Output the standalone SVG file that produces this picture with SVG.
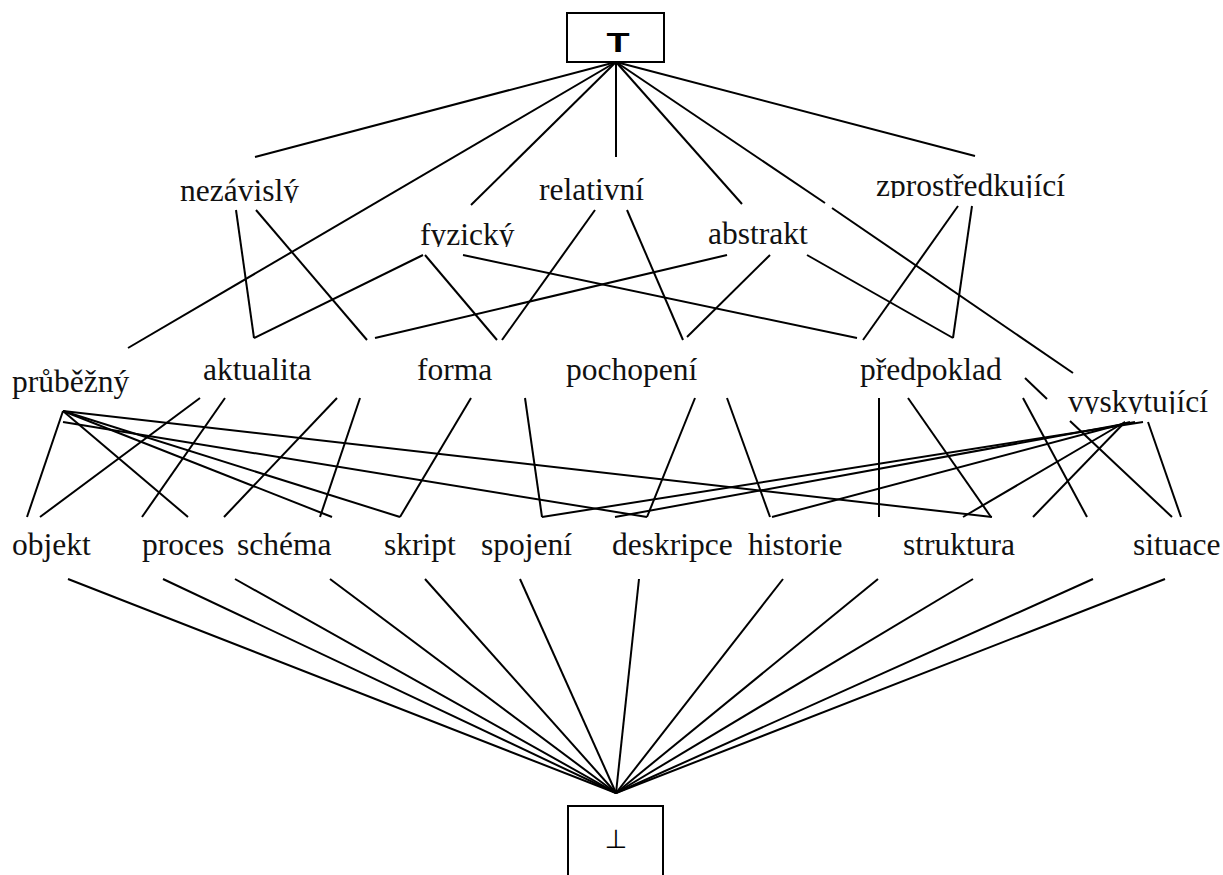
<svg xmlns="http://www.w3.org/2000/svg" width="1223" height="875" viewBox="0 0 1223 875">
  <style>
    .edge { stroke: #000; stroke-width: 2; fill: none; stroke-linecap: butt; }
    .box { fill: #fff; stroke: #000; stroke-width: 2; }
    .lbl { font-family: "Liberation Serif", "Times New Roman", serif; font-size: 31.5px; fill: #111; }
    .sym { font-family: "Liberation Sans", Arial, sans-serif; font-size: 28px; font-weight: bold; fill: #000; text-anchor: middle; }
    .bot { font-family: "DejaVu Sans", sans-serif; font-size: 26px; fill: #000; text-anchor: middle; }
  </style>
  <defs>
    <!-- label frames cut off the descenders of some words -->
    <clipPath id="clip-nezavisly"><rect x="170" y="160" width="150" height="43"/></clipPath>
    <clipPath id="clip-fyzicky"><rect x="410" y="205" width="120" height="42"/></clipPath>
    <clipPath id="clip-zprostredkujici"><rect x="866" y="155" width="215" height="43"/></clipPath>
    <clipPath id="clip-vyskytujici"><rect x="1058" y="370" width="160" height="44"/></clipPath>
  </defs>

  <rect width="1223" height="875" fill="#fff"/>

  <g id="connectors">
    <!-- from top element -->
    <line class="edge" x1="616" y1="62" x2="255" y2="157"/>
    <line class="edge" x1="616" y1="62" x2="128" y2="348"/>
    <line class="edge" x1="616" y1="62" x2="471" y2="205"/>
    <line class="edge" x1="616" y1="62" x2="616" y2="157"/>
    <line class="edge" x1="616" y1="62" x2="742" y2="204"/>
    <line class="edge" x1="616" y1="62" x2="825" y2="203"/>
    <line class="edge" x1="832" y1="208" x2="1073" y2="373"/>
    <line class="edge" x1="616" y1="62" x2="975" y2="156"/>

    <!-- second layer -->
    <line class="edge" x1="236" y1="210" x2="254" y2="338"/>
    <line class="edge" x1="256" y1="210" x2="367" y2="340"/>
    <line class="edge" x1="595" y1="210" x2="502" y2="340"/>
    <line class="edge" x1="627" y1="210" x2="683" y2="340"/>
    <line class="edge" x1="958" y1="206" x2="863" y2="340"/>
    <line class="edge" x1="972" y1="206" x2="953" y2="338"/>

    <!-- third layer -->
    <line class="edge" x1="423" y1="255" x2="254" y2="338"/>
    <line class="edge" x1="425" y1="255" x2="497" y2="340"/>
    <line class="edge" x1="463" y1="255" x2="857" y2="338"/>
    <line class="edge" x1="727" y1="255" x2="375" y2="338"/>
    <line class="edge" x1="770" y1="255" x2="687" y2="337"/>
    <line class="edge" x1="807" y1="255" x2="953" y2="338"/>

    <!-- from průběžný -->
    <line class="edge" x1="63" y1="411" x2="27" y2="517"/>
    <line class="edge" x1="63" y1="411" x2="188" y2="517"/>
    <line class="edge" x1="63" y1="411" x2="332" y2="517"/>
    <line class="edge" x1="63" y1="411" x2="400" y2="517"/>
    <line class="edge" x1="63" y1="411" x2="992" y2="517"/>
    <line class="edge" x1="63" y1="422" x2="647" y2="517"/>

    <!-- from aktualita -->
    <line class="edge" x1="200" y1="398" x2="40" y2="517"/>
    <line class="edge" x1="225" y1="398" x2="142" y2="517"/>
    <line class="edge" x1="337" y1="398" x2="224" y2="517"/>
    <line class="edge" x1="360" y1="398" x2="320" y2="517"/>

    <!-- from forma -->
    <line class="edge" x1="471" y1="398" x2="400" y2="517"/>
    <line class="edge" x1="525" y1="398" x2="542" y2="517"/>

    <!-- from pochopení -->
    <line class="edge" x1="695" y1="398" x2="647" y2="517"/>
    <line class="edge" x1="727" y1="398" x2="770" y2="517"/>

    <!-- from předpoklad -->
    <line class="edge" x1="879" y1="398" x2="879" y2="517"/>
    <line class="edge" x1="908" y1="398" x2="991" y2="517"/>
    <line class="edge" x1="1023" y1="398" x2="1087" y2="517"/>
    <line class="edge" x1="1025" y1="378" x2="1047" y2="399"/>
    <line class="edge" x1="1070" y1="421" x2="1172" y2="517"/>

    <!-- from vyskytující -->
    <line class="edge" x1="1143" y1="422" x2="542" y2="517"/>
    <line class="edge" x1="1135" y1="422" x2="615" y2="517"/>
    <line class="edge" x1="1130" y1="422" x2="772" y2="517"/>
    <line class="edge" x1="1125" y1="422" x2="963" y2="517"/>
    <line class="edge" x1="1125" y1="422" x2="1033" y2="517"/>
    <line class="edge" x1="1148" y1="422" x2="1181" y2="517"/>

    <!-- to bottom element -->
    <line class="edge" x1="68" y1="579" x2="616" y2="793"/>
    <line class="edge" x1="163" y1="579" x2="616" y2="793"/>
    <line class="edge" x1="235" y1="579" x2="616" y2="793"/>
    <line class="edge" x1="330" y1="579" x2="616" y2="793"/>
    <line class="edge" x1="425" y1="579" x2="616" y2="793"/>
    <line class="edge" x1="520" y1="579" x2="616" y2="793"/>
    <line class="edge" x1="639" y1="579" x2="616" y2="793"/>
    <line class="edge" x1="783" y1="579" x2="616" y2="793"/>
    <line class="edge" x1="878" y1="579" x2="616" y2="793"/>
    <line class="edge" x1="973" y1="579" x2="616" y2="793"/>
    <line class="edge" x1="1093" y1="579" x2="616" y2="793"/>
    <line class="edge" x1="1165" y1="579" x2="616" y2="793"/>
  </g>

  <g id="node-top">
    <rect class="box" x="567" y="13" width="97" height="49"/>
    <!-- wide bold top symbol -->
    <text class="sym" transform="translate(618 52) scale(1.35 1)">T</text>
  </g>
  <g id="node-bottom">
    <rect class="box" x="568" y="806" width="95" height="100"/>
    <text class="bot" x="616" y="848">⊥</text>
  </g>

  <g id="node-nezavisly"><text class="lbl" x="180" y="201" clip-path="url(#clip-nezavisly)">nezávislý</text></g>
  <g id="node-relativni"><text class="lbl" x="539" y="200">relativní</text></g>
  <g id="node-zprostredkujici"><text class="lbl" x="876" y="196" clip-path="url(#clip-zprostredkujici)">zprostředkující</text></g>
  <g id="node-fyzicky"><text class="lbl" x="420" y="245" clip-path="url(#clip-fyzicky)">fyzický</text></g>
  <g id="node-abstrakt"><text class="lbl" x="708" y="244">abstrakt</text></g>

  <g id="node-prubezny"><text class="lbl" x="12" y="392">průběžný</text></g>
  <g id="node-aktualita"><text class="lbl" x="203" y="380">aktualita</text></g>
  <g id="node-forma"><text class="lbl" x="417" y="380">forma</text></g>
  <g id="node-pochopeni"><text class="lbl" x="566" y="380">pochopení</text></g>
  <g id="node-predpoklad"><text class="lbl" x="860" y="380">předpoklad</text></g>
  <g id="node-vyskytujici"><text class="lbl" x="1068" y="412" clip-path="url(#clip-vyskytujici)">vyskytující</text></g>

  <g id="node-objekt"><text class="lbl" x="12" y="555">objekt</text></g>
  <g id="node-proces"><text class="lbl" x="142" y="555">proces</text></g>
  <g id="node-schema"><text class="lbl" x="237" y="555">schéma</text></g>
  <g id="node-skript"><text class="lbl" x="384" y="555">skript</text></g>
  <g id="node-spojeni"><text class="lbl" x="481" y="555">spojení</text></g>
  <g id="node-deskripce"><text class="lbl" x="612" y="555">deskripce</text></g>
  <g id="node-historie"><text class="lbl" x="748" y="555">historie</text></g>
  <g id="node-struktura"><text class="lbl" x="903" y="555">struktura</text></g>
  <g id="node-situace"><text class="lbl" x="1133" y="555">situace</text></g>
</svg>
